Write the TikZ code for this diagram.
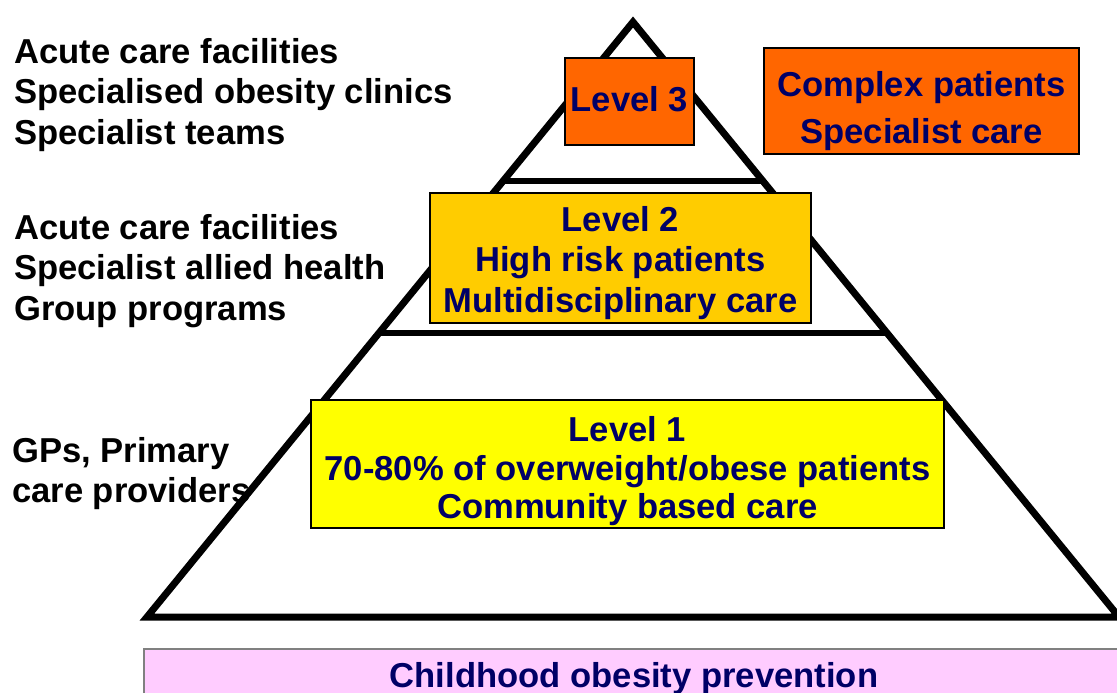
\documentclass[tikz,border=0pt]{standalone}
\usepackage{fontspec}
\setmainfont{Liberation Sans}
\usetikzlibrary{calc}
\definecolor{navy}{HTML}{000066}
\definecolor{lvlthree}{HTML}{FF6600}
\definecolor{lvltwo}{HTML}{FFCC00}
\definecolor{lvlone}{HTML}{FFFF00}
\definecolor{prevpink}{HTML}{FFCCFF}
\begin{document}
\begin{tikzpicture}[x=1pt,y=-1pt,
  every node/.style={inner sep=0pt, font=\bfseries\fontsize{34.6}{40.5}\selectfont},
  tierbox/.style={draw=black, line width=1.8pt},
  boxtext/.style={text=navy, align=center},
  sidelabel/.style={anchor=north west, align=left, text=black},
  edge/.style={line width=7pt, line join=miter},
  tier/.style={line width=6pt}]
\useasboundingbox (0,0) rectangle (1117,693);
\fill[white] (0,0) rectangle (1117,693);

% care settings for each level
\node[sidelabel] (setthree) at (14,38) {Acute care facilities\\Specialised obesity clinics\\Specialist teams};
\node[sidelabel] (settwo) at (14,214) {Acute care facilities\\Specialist allied health\\Group programs};
\node[sidelabel] (setone) at (12,437) {GPs, Primary\\care providers};

% the pyramid and its tiers
\coordinate (apex) at (633,22);
\coordinate (bl) at (147,617);
\coordinate (br) at (1119,617);
\draw[edge] (bl) -- (apex) -- (br) -- cycle;
\draw[tier] ($(apex)!0.2672!(bl)$) -- ($(apex)!0.2672!(br)$);
\draw[tier] ($(apex)!0.5227!(bl)$) -- ($(apex)!0.5227!(br)$);

% level boxes
\node[tierbox, fill=lvlthree, minimum width=129, minimum height=87] (l3) at (629.5,101.5) {};
\node[boxtext] (l3t) at ([yshift=2pt]l3.center) {Level 3};

\node[tierbox, fill=lvlthree, minimum width=315, minimum height=106] (cx) at (921.5,101) {};
\node[boxtext, font=\bfseries\fontsize{34.6}{47}\selectfont] (cxt) at ([yshift=-10pt]cx.center)
  {Complex patients\\Specialist care};

\node[tierbox, fill=lvltwo, minimum width=381, minimum height=130] (l2) at (620.5,258) {};
\node[boxtext] (l2t) at ([yshift=-5pt]l2.center) {Level 2\\High risk patients\\Multidisciplinary care};

\node[tierbox, fill=lvlone, minimum width=633, minimum height=128] (l1) at (627.5,464) {};
\node[boxtext, font=\bfseries\fontsize{34.6}{38.5}\selectfont] (l1t) at ([yshift=-7.5pt]l1.center)
  {Level 1\\70-80\% of overweight/obese patients\\Community based care};

% prevention band along the bottom
\node[draw=gray, line width=1.5pt, fill=prevpink, minimum width=1000, minimum height=80,
      anchor=north west] (prev) at (143,648) {};
\node[text=navy, anchor=base] (prevtext) at (634,687) {Childhood obesity prevention};
\end{tikzpicture}
\end{document}
